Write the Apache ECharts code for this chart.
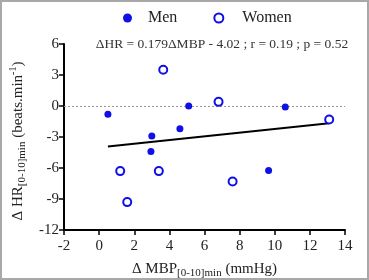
<!DOCTYPE html>
<html><head><meta charset="utf-8">
<script src="https://cdn.jsdelivr.net/npm/echarts@6/dist/echarts.min.js"></script>
<style>html,body{margin:0;padding:0;background:#fff}#c{width:369px;height:280px}</style>
</head><body><div id="c"></div>
<script>
const menX = [0.5, 2.95, 3.0, 4.6, 5.1, 9.65, 10.6];
const menY = [-0.8, -4.4, -2.9, -2.2, 0.0, -6.25, -0.1];
const womenX = [1.2, 1.6, 3.4, 3.65, 6.8, 7.6, 13.1];
const womenY = [-6.3, -9.3, -6.3, 3.5, 0.4, -7.3, -1.3];
const fitX = [0.5, 13.1];
const fitY = [-3.93, -1.68];
const equation = 'ΔHR = 0.179ΔMBP - 4.02 ; r = 0.19 ; p = 0.52';
const blue = '#1010e6';
const serif = 'Liberation Serif';
const zip = (a, b) => a.map((v, i) => [v, b[i]]);

const chart = echarts.init(document.getElementById('c'), null, {renderer: 'canvas'});
chart.setOption({
  animation: false,
  backgroundColor: '#fff',
  grid: {left: 64, right: 24, top: 44, bottom: 50, containLabel: false, outerBoundsMode: 'none'},
  legend: {
    top: 5, left: 118, itemWidth: 9, itemHeight: 9, itemGap: 36,
    textStyle: {fontFamily: serif, fontSize: 16, color: '#222'},
    data: [
      {name: 'Men', textStyle: {padding: [0, 0, 0, 11]}},
      {name: 'Women', textStyle: {padding: [0, 0, 0, 14]}}
    ]
  },
  xAxis: {
    type: 'value', min: -2, max: 14, interval: 2,
    axisLine: {onZero: false, lineStyle: {color: '#000', width: 2}},
    axisTick: {show: true, length: 5, lineStyle: {color: '#000', width: 1.5}},
    axisLabel: {fontFamily: serif, fontSize: 15, color: '#222', margin: 9},
    splitLine: {show: false},
    name: '{t|Δ MBP}{s|[0-10]min}{t| (mmHg)}',
    nameLocation: 'middle', nameGap: 29,
    nameTextStyle: {rich: {
      t: {fontFamily: serif, fontSize: 15, color: '#222', lineHeight: 20, verticalAlign: 'middle'},
      s: {fontFamily: serif, fontSize: 11, color: '#222', lineHeight: 20, verticalAlign: 'bottom', padding: [6, 0, 0, 0]}
    }}
  },
  yAxis: {
    type: 'value', min: -12, max: 6, interval: 3,
    axisLine: {onZero: false, lineStyle: {color: '#000', width: 2}},
    axisTick: {show: true, length: 5, lineStyle: {color: '#000', width: 1.5}},
    axisLabel: {fontFamily: serif, fontSize: 15, color: '#222', margin: 5},
    splitLine: {show: false},
    name: '{t|Δ HR}{s|[0-10]min}{t| (beats.min}{p|-1}{t|)}',
    nameLocation: 'middle', nameGap: 35, nameRotate: 90,
    nameTextStyle: {padding: [0, 0, 0, -8], rich: {
      t: {fontFamily: serif, fontSize: 15, color: '#222', lineHeight: 20, verticalAlign: 'middle'},
      s: {fontFamily: serif, fontSize: 11, color: '#222', lineHeight: 20, verticalAlign: 'bottom', padding: [6, 0, 0, 0]},
      p: {fontFamily: serif, fontSize: 10, color: '#222', lineHeight: 20, verticalAlign: 'top', padding: [0, 0, 6, 0]}
    }}
  },
  graphic: [
    {type: 'rect', shape: {x: 1, y: 1, width: 367, height: 278}, style: {fill: 'none', stroke: '#a8a8a8', lineWidth: 2}, silent: true, z: 100},
    {type: 'text', x: 222, y: 44, style: {text: equation, font: '13.5px "Liberation Serif"', fill: '#333', align: 'center', verticalAlign: 'middle'}, z: 100}
  ],
  series: [
    {
      name: 'zero', type: 'line', data: [], silent: true,
      markLine: {silent: true, symbol: ['none', 'none'], label: {show: false},
        lineStyle: {color: '#999', type: [2, 2], width: 1}, data: [{yAxis: 0}]}
    },
    {
      name: 'fit', type: 'line', data: zip(fitX, fitY), showSymbol: false, symbol: 'none',
      lineStyle: {color: '#000', width: 2}, z: 3
    },
    {
      name: 'Men', type: 'scatter', data: zip(menX, menY), symbol: 'circle', symbolSize: 7,
      itemStyle: {color: blue, opacity: 1}, z: 5
    },
    {
      name: 'Women', type: 'scatter', data: zip(womenX, womenY), symbol: 'emptyCircle', symbolSize: 8,
      itemStyle: {color: blue, borderColor: blue, borderWidth: 2, opacity: 1}, z: 5
    }
  ]
});
</script></body></html>
